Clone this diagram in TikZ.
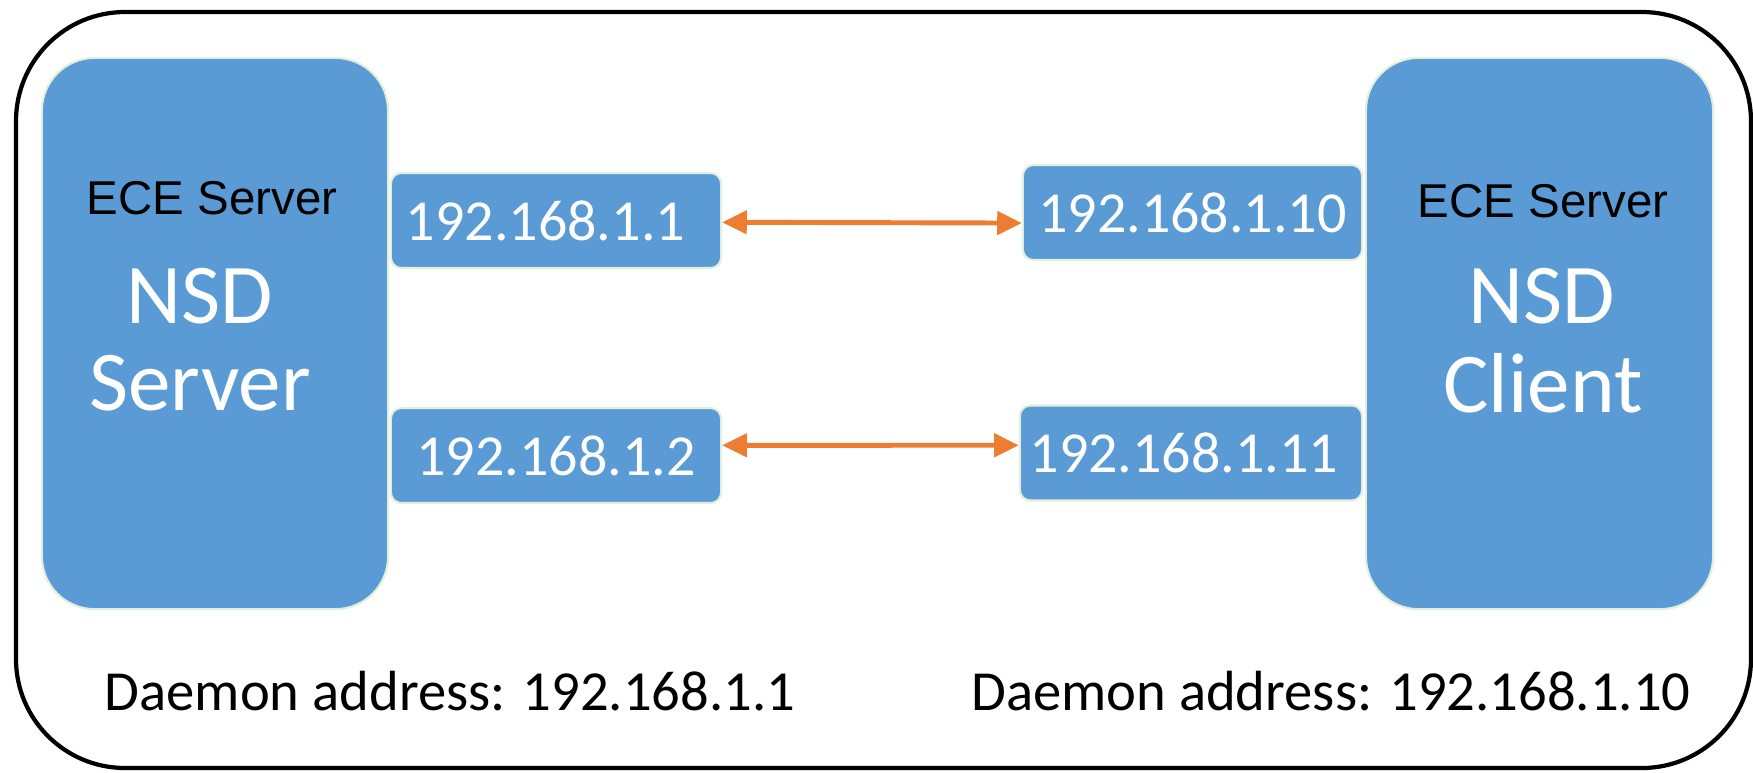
\documentclass[tikz,border=0pt]{standalone}
\usepackage{fontspec}
\setmainfont{Carlito}
\newfontfamily\arialfont{Liberation Sans}
\usetikzlibrary{arrows.meta}
\definecolor{boxblue}{HTML}{5B9BD5}
\definecolor{boxedge}{HTML}{E2EFDA}
\definecolor{arrorange}{HTML}{ED7D31}
\tikzset{
  bigbox/.style={fill=boxblue, draw=boxedge, line width=0.6pt, rounded corners=15pt, minimum height=5.51cm, inner sep=0pt},
  ipbox/.style={fill=boxblue, draw=boxedge, line width=0.6pt, rounded corners=3pt, minimum height=0.95cm, inner sep=0pt, text=white, font=\fontsize{16.5}{19}\selectfont},
  ecelabel/.style={inner sep=0pt, font=\arialfont\fontsize{13.5}{16}\selectfont, text=black},
  nsdlabel/.style={inner sep=0pt, font=\fontsize{24.2}{28}\selectfont, text=white},
  daemon/.style={inner sep=0pt, font=\fontsize{16.1}{19}\selectfont, text=black},
  link/.style={draw=arrorange, line width=1.4pt, {Triangle[length=7pt,width=6.5pt]}-{Triangle[length=7pt,width=6.5pt]}},
  frame/.style={draw=black, line width=1.2pt, rounded corners=31pt}
}
\begin{document}
\begin{tikzpicture}[x=0.01cm,y=-0.01cm]
\useasboundingbox (0,0) rectangle (1753,772);
\draw[frame] (16,12) rectangle (1751,768);
% big boxes
\node[bigbox, minimum width=3.46cm] (srv) at (215,333.5) {};
\node[bigbox, minimum width=3.47cm] (cli) at (1539.5,333.5) {};
% labels in big boxes
\node[ecelabel] (ece1) at (212,198) {ECE Server};
\node[nsdlabel] (nsd1) at (200,296) {NSD};
\node[nsdlabel] (srvl) at (200,383) {Server};
\node[ecelabel] (ece2) at (1543,201) {ECE Server};
\node[nsdlabel] (nsd2) at (1542,296) {NSD};
\node[nsdlabel] (clil) at (1543,383) {Client};
% ip boxes
\node[ipbox, minimum width=3.30cm] (b1) at (556,220.5) {192.168.1.1\kern6pt\relax};
\node[ipbox, minimum width=3.30cm] (b2) at (556,455.5) {192.168.1.2};
\node[ipbox, minimum width=3.39cm] (b3) at (1192.5,212.5) {192.168.1.10};
\node[ipbox, minimum width=3.42cm] (b4) at (1191,453) {192.168.1.11\kern4pt\relax};
% links
\draw[link] ([yshift=-0.5pt]b1.east) -- ([yshift=-3pt]b3.west);
\draw[link] ([yshift=2.9pt]b2.east) -- ([yshift=2.2pt]b4.west);
% daemon addresses
\node[daemon] (d1) at (450,691) {Daemon address: 192.168.1.1};
\node[daemon] (d2) at (1331,691) {Daemon address: 192.168.1.10};
\end{tikzpicture}
\end{document}
